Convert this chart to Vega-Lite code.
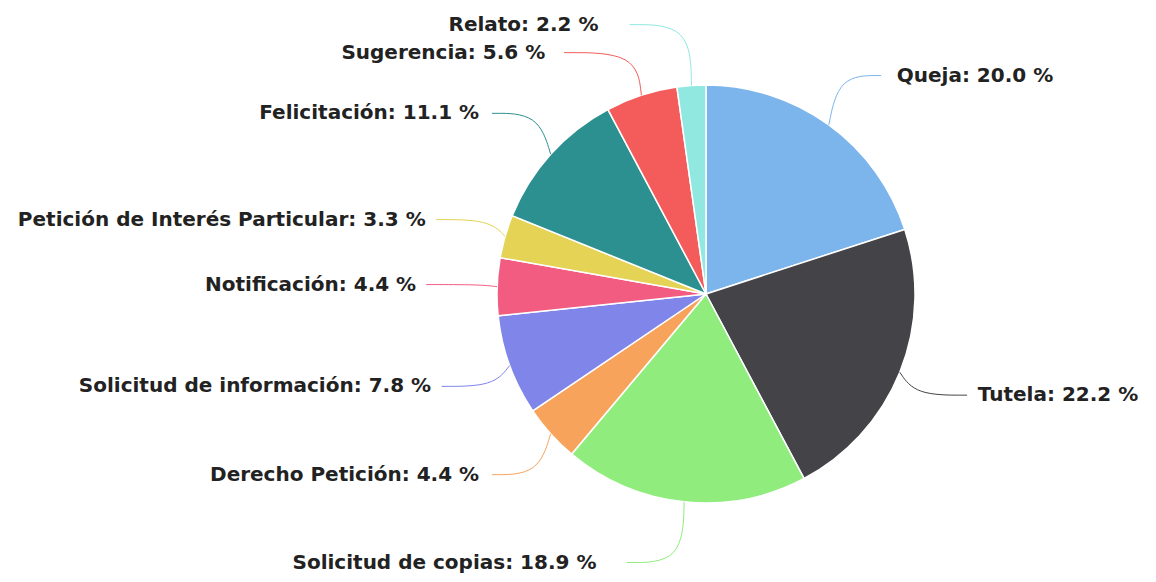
{
  "$schema": "https://vega.github.io/schema/vega-lite/v6.json",
  "width": 900,
  "height": 576,
  "padding": {"left": 256, "top": 6, "right": 0, "bottom": 0},
  "autosize": {"type": "none"},
  "background": "white",
  "view": {"stroke": null},
  "data": {
    "values": [
      {"categoria": "Queja", "valor": 18},
      {"categoria": "Tutela", "valor": 20},
      {"categoria": "Solicitud de copias", "valor": 17},
      {"categoria": "Derecho Petición", "valor": 4},
      {"categoria": "Solicitud de información", "valor": 7},
      {"categoria": "Notificación", "valor": 4},
      {"categoria": "Petición de Interés Particular", "valor": 3},
      {"categoria": "Felicitación", "valor": 10},
      {"categoria": "Sugerencia", "valor": 5},
      {"categoria": "Relato", "valor": 2}
    ]
  },
  "transform": [
    {"joinaggregate": [{"op": "sum", "field": "valor", "as": "total"}]},
    {"window": [{"op": "sum", "field": "valor", "as": "acum"}], "frame": [null, 0]},
    {"calculate": "2*PI*(datum.acum - datum.valor)/datum.total", "as": "a0"},
    {"calculate": "2*PI*datum.acum/datum.total", "as": "a1"},
    {"calculate": "(datum.a0 + datum.a1)/2", "as": "amid"},
    {"calculate": "datum.categoria + ': ' + format(100*datum.valor/datum.total, '.1f') + ' %'", "as": "etiqueta"},
    {"calculate": "datum.amid < PI ? 'R' : 'L'", "as": "lado"},
    {"calculate": "-270*cos(datum.amid)", "as": "sy"},
    {"window": [{"op": "row_number", "as": "rk"}], "groupby": ["lado"], "sort": [{"field": "sy", "order": "ascending"}]},
    {"calculate": "datum.sy - datum.rk*28", "as": "v"},
    {"window": [{"op": "max", "field": "v", "as": "vmax"}], "groupby": ["lado"], "sort": [{"field": "sy", "order": "ascending"}], "frame": [null, 0]},
    {"calculate": "datum.vmax + datum.rk*28", "as": "ly"},
    {"calculate": "datum.lado == 'R' ? 1 : -1", "as": "sgn"},
    {"calculate": "datum.sgn*sqrt(max(0, 290*290 - datum.ly*datum.ly))", "as": "tx"},
    {"calculate": "datum.sgn*sqrt(max(0, 280*280 - datum.ly*datum.ly))", "as": "cx"},
    {"calculate": "209*sin(datum.amid)", "as": "ax"},
    {"calculate": "-209*cos(datum.amid)", "as": "ay"},
    {"calculate": "226*sin(datum.amid)", "as": "bx"}
  ],
  "encoding": {
    "color": {
      "field": "categoria",
      "type": "nominal",
      "legend": null,
      "scale": {
        "domain": ["Queja", "Tutela", "Solicitud de copias", "Derecho Petición", "Solicitud de información", "Notificación", "Petición de Interés Particular", "Felicitación", "Sugerencia", "Relato"],
        "range": ["#7cb5ec", "#434348", "#90ed7d", "#f7a35c", "#8085e9", "#f15c80", "#e4d354", "#2b908f", "#f45b5b", "#91e8e1"]
      }
    }
  },
  "layer": [
    {
      "mark": {"type": "arc", "radius": 209, "stroke": "white", "strokeWidth": 1.5},
      "encoding": {
        "theta": {"field": "a0", "type": "quantitative", "scale": null},
        "theta2": {"field": "a1"}
      }
    },
    {
      "transform": [
        {"fold": ["ax", "bx", "cx"], "as": ["punto", "px"]},
        {"calculate": "datum.punto == 'ax' ? datum.ay : datum.ly", "as": "py"}
      ],
      "mark": {"type": "line", "strokeWidth": 1, "interpolate": "basis"},
      "encoding": {
        "x": {"field": "px", "type": "quantitative", "axis": null, "scale": {"domain": [-450, 450], "nice": false, "zero": false}},
        "y": {"field": "py", "type": "quantitative", "axis": null, "scale": {"domain": [-288, 288], "nice": false, "zero": false, "reverse": true}},
        "order": {"field": "punto"},
        "detail": {"field": "categoria"}
      }
    },
    {
      "transform": [{"filter": "datum.lado == 'R'"}],
      "mark": {"type": "text", "align": "left", "baseline": "middle", "font": "DejaVu Sans", "fontWeight": "bold", "fontSize": 20, "dx": 0},
      "encoding": {
        "x": {"field": "tx", "type": "quantitative"},
        "y": {"field": "ly", "type": "quantitative"},
        "text": {"field": "etiqueta"},
        "color": {"value": "#222222"}
      }
    },
    {
      "transform": [{"filter": "datum.lado == 'L'"}],
      "mark": {"type": "text", "align": "right", "baseline": "middle", "font": "DejaVu Sans", "fontWeight": "bold", "fontSize": 20},
      "encoding": {
        "x": {"field": "tx", "type": "quantitative"},
        "y": {"field": "ly", "type": "quantitative"},
        "text": {"field": "etiqueta"},
        "color": {"value": "#222222"}
      }
    }
  ]
}
